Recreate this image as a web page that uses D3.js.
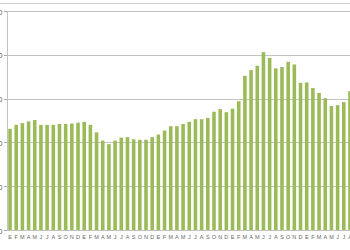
<!DOCTYPE html>
<html lang="es">
<head>
    <meta charset="UTF-8">
    <title>Serie mensual</title>
    <script src="https://cdn.jsdelivr.net/npm/d3@7"></script>
    <style>
        body { margin: 0; background: #fff; }
        svg { display: block; }
    </style>
</head>
<body>
<script>
    // etiquetas de meses (E = enero ... D = diciembre), 56 meses
    var meses = [
        "E","F","M","A","M","J","J","A","S","O","N","D",
        "E","F","M","A","M","J","J","A","S","O","N","D",
        "E","F","M","A","M","J","J","A","S","O","N","D",
        "E","F","M","A","M","J","J","A","S","O","N","D",
        "E","F","M","A","M","J","J","A"
    ];

    // valores
    var valores = [
        23.1, 24.0, 24.4, 24.8, 25.1, 24.0, 24.0, 24.0, 24.2, 24.2, 24.3, 24.5,
        24.7, 24.0, 22.3, 20.4, 19.6, 20.4, 21.1, 21.2, 20.7, 20.6, 20.6, 21.2,
        21.8, 22.7, 23.7, 23.7, 24.2, 24.7, 25.3, 25.3, 25.6, 27.0, 27.6, 26.9,
        27.7, 29.4, 35.2, 36.5, 37.5, 40.6, 39.3, 36.9, 37.2, 38.4, 37.8, 33.6,
        33.7, 32.4, 31.3, 30.1, 28.3, 28.5, 29.2, 31.7
    ];

    // marcas del eje y (las etiquetas quedan cortadas por el borde, como en el original)
    var marcasY = [0, 10, 20, 30, 40, 50];

    var width = 350, height = 250;
    var margin = {top: 11, right: -3, bottom: 20, left: 7};

    var svg = d3.select("body")
                .append("svg")
                .attr("width", width)
                .attr("height", height);

    // linea superior del marco
    svg.append("line")
        .attr("x1", 0).attr("x2", width)
        .attr("y1", 3.5).attr("y2", 3.5)
        .attr("stroke", "#cccccc")
        .attr("stroke-width", 1);

    var xScale = d3.scaleBand()
                    .domain(d3.range(valores.length))
                    .range([margin.left, width - margin.right])
                    .paddingInner(0.42)
                    .paddingOuter(0.2);

    var yScale = d3.scaleLinear()
                    .domain([0, 50])
                    .range([height - margin.bottom, margin.top]);

    // lineas de division
    svg.append("g")
        .attr("transform", "translate(" + margin.left + ",0)")
        .call(d3.axisLeft(yScale).tickValues(marcasY).tickSize(-(width - margin.left)).tickFormat(""))
        .call(function (g) {
            g.select(".domain").remove();
            g.selectAll("line")
                .attr("stroke", "#c3c3c3")
                .attr("stroke-width", 1)
                .attr("shape-rendering", "crispEdges");
        });

    // eje y
    svg.append("g")
        .attr("transform", "translate(" + margin.left + ",0)")
        .call(d3.axisLeft(yScale).tickValues(marcasY).tickSizeInner(3).tickSizeOuter(0).tickPadding(1.5))
        .call(function (g) {
            g.select(".domain").attr("stroke", "#c3c3c3").attr("shape-rendering", "crispEdges");
            g.selectAll("line").attr("stroke", "#a6a6a6").attr("shape-rendering", "crispEdges");
            g.selectAll("text")
                .attr("fill", "#595959")
                .style("font-family", "'Liberation Sans', Arial, sans-serif")
                .style("font-size", "7px")
                .attr("dy", "0.45em");
        });

    // barras
    svg.selectAll(".bar")
        .data(valores)
        .enter()
        .append("rect")
        .attr("class", "bar")
        .attr("x", function (d, i) { return xScale(i); })
        .attr("y", function (d) { return yScale(d); })
        .attr("width", xScale.bandwidth())
        .attr("height", function (d) { return yScale(0) - yScale(d); })
        .attr("fill", "#9bbb59");

    // eje x con las letras de los meses
    svg.append("g")
        .attr("transform", "translate(0," + yScale(0) + ")")
        .call(d3.axisBottom(xScale).tickSize(0).tickPadding(5).tickFormat(function (i) { return meses[i]; }))
        .call(function (g) {
            g.select(".domain").attr("stroke", "#c3c3c3").attr("shape-rendering", "crispEdges");
            g.selectAll("text")
                .attr("fill", "#666666")
                .style("font-family", "'Liberation Sans', Arial, sans-serif")
                .style("font-size", "5.5px");
        });
</script>
</body>
</html>
